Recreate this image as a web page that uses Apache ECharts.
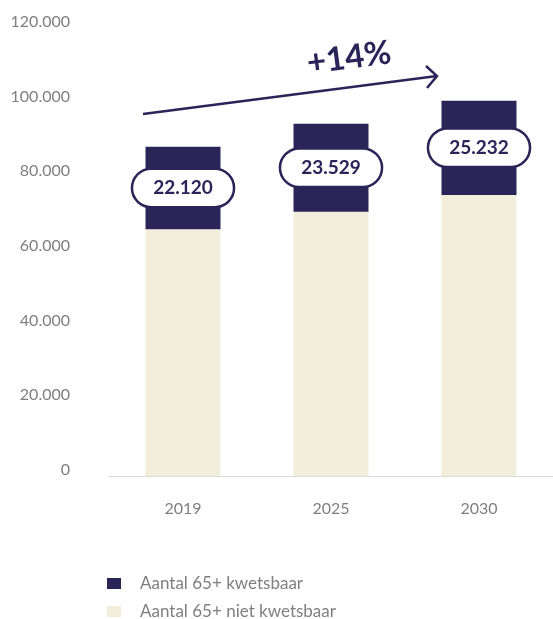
<!DOCTYPE html>
<html>
<head>
<meta charset="utf-8">
<script src="https://cdn.jsdelivr.net/npm/echarts@6/dist/echarts.min.js"></script>
<style>
html,body{margin:0;padding:0;background:#fff;}
#c{width:553px;height:619px;}
</style>
</head>
<body>
<div id="c"></div>
<script>
const categories = ['2019', '2025', '2030'];
const nietKwetsbaar = [66100, 70800, 75300];
const kwetsbaar = [22120, 23529, 25232];
const seriesNames = ['Aantal 65+ kwetsbaar', 'Aantal 65+ niet kwetsbaar'];
const growthLabel = '+14%';

const DARK = '#2b2459';
const LIGHT = '#f3eddb';
const GRAY = '#7f7f7f';
const FONT = 'Lato';

const chart = echarts.init(document.getElementById('c'), null, {renderer: 'canvas'});

function fmt(v) {
  return String(v).replace(/\B(?=(\d{3})+(?!\d))/g, '.');
}

chart.setOption({
  animation: false,
  textStyle: {fontFamily: FONT},
  grid: {left: 109, right: -2, top: 28, bottom: 143, containLabel: false},
  legend: {
    orient: 'vertical',
    left: 107,
    top: 575,
    height: 80,
    padding: 0,
    itemWidth: 14,
    itemHeight: 11,
    itemGap: 11,
    icon: 'rect',
    data: seriesNames,
    textStyle: {color: GRAY, fontSize: 17, lineHeight: 16, fontFamily: FONT, padding: [0, 0, 0, 14]}
  },
  xAxis: {
    type: 'category',
    data: categories,
    axisLine: {show: true, lineStyle: {color: '#d9d9d9', width: 1}},
    axisTick: {show: false},
    axisLabel: {color: GRAY, fontSize: 16, margin: 25, fontFamily: FONT}
  },
  yAxis: {
    type: 'value',
    min: 0,
    max: 120000,
    interval: 20000,
    splitLine: {show: false},
    axisLine: {show: false},
    axisTick: {show: false},
    axisLabel: {
      color: GRAY,
      fontSize: 16,
      fontFamily: FONT,
      margin: 39,
      verticalAlign: 'bottom',
      lineHeight: 12,
      formatter: function (v) { return fmt(v); }
    }
  },
  series: [
    {
      name: seriesNames[1],
      type: 'bar',
      stack: 'total',
      data: nietKwetsbaar,
      barWidth: 75,
      itemStyle: {color: LIGHT}
    },
    {
      name: seriesNames[0],
      type: 'bar',
      stack: 'total',
      data: kwetsbaar,
      barWidth: 75,
      itemStyle: {color: DARK},
      label: {
        show: true,
        position: 'inside',
        formatter: function (p) { return fmt(p.value); },
        color: DARK,
        fontWeight: 'bold',
        fontSize: 19,
        fontFamily: FONT,
        lineHeight: 22,
        backgroundColor: '#ffffff',
        borderColor: DARK,
        borderWidth: 2.5,
        borderRadius: 19,
        padding: [7, 20]
      }
    }
  ],
  graphic: [
    {
      type: 'polyline',
      shape: {points: [[143, 114], [437, 76]]},
      style: {stroke: DARK, lineWidth: 2.5, fill: null}
    },
    {
      type: 'polyline',
      shape: {points: [[426, 66], [437, 76], [427, 88]]},
      style: {stroke: DARK, lineWidth: 2.5, fill: null, lineJoin: 'miter'}
    },
    {
      type: 'text',
      x: 349,
      y: 58,
      rotation: 0.13,
      style: {
        text: growthLabel,
        fill: DARK,
        fontSize: 33,
        fontWeight: 'bold',
        fontFamily: FONT,
        align: 'center',
        verticalAlign: 'middle'
      }
    }
  ]
});
</script>
</body>
</html>
